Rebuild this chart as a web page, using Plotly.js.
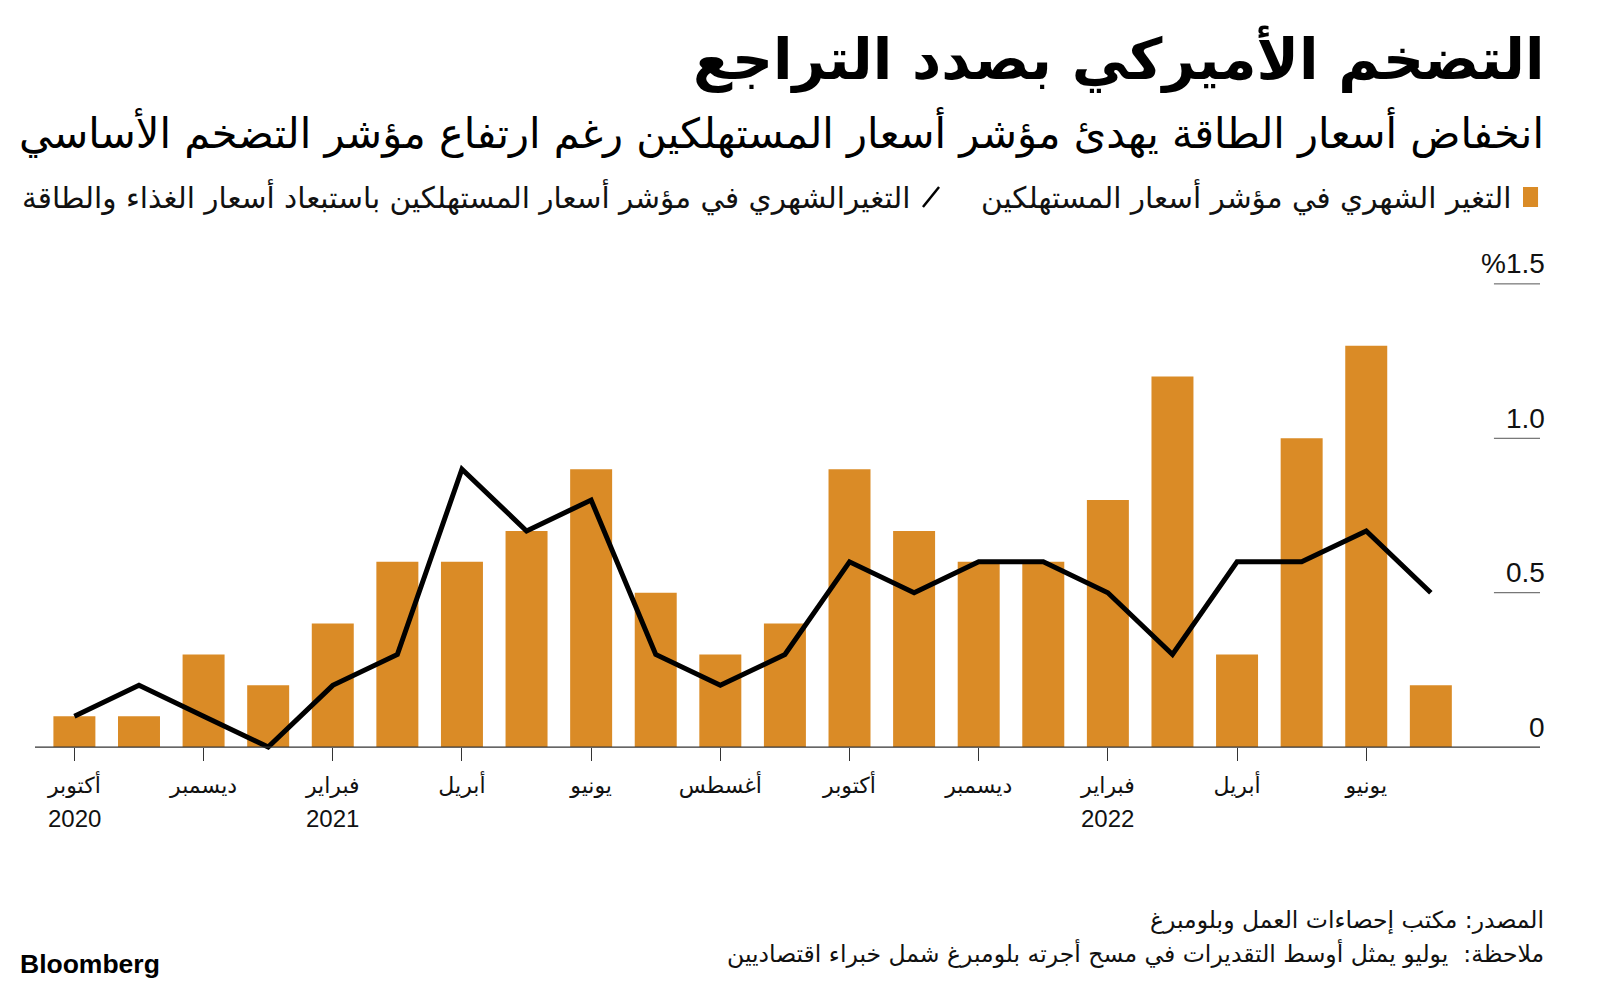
<!DOCTYPE html>
<html>
<head>
<meta charset="utf-8">
<script src="https://cdn.plot.ly/plotly-3.0.1.min.js"></script>
<style>html,body{margin:0;padding:0;background:#fff;}#chart{width:1600px;height:989px;}</style>
</head>
<body>
<div id="chart"></div>
<script>
// ---- data ----
const months = ['2020-10','2020-11','2020-12','2021-01','2021-02','2021-03','2021-04','2021-05','2021-06','2021-07','2021-08','2021-09','2021-10','2021-11','2021-12','2022-01','2022-02','2022-03','2022-04','2022-05','2022-06','2022-07'];
const cpiMonthly = [0.1,0.1,0.3,0.2,0.4,0.6,0.6,0.7,0.9,0.5,0.3,0.4,0.9,0.7,0.6,0.6,0.8,1.2,0.3,1.0,1.3,0.2];
const coreMonthly = [0.1,0.2,0.1,0.0,0.2,0.3,0.9,0.7,0.8,0.3,0.2,0.3,0.6,0.5,0.6,0.6,0.5,0.3,0.6,0.6,0.7,0.5];
const tickMonths = ['2020-10','2020-12','2021-02','2021-04','2021-06','2021-08','2021-10','2021-12','2022-02','2022-04','2022-06'];
const tickLabels = ['أكتوبر','ديسمبر','فبراير','أبريل','يونيو','أغسطس','أكتوبر','ديسمبر','فبراير','أبريل','يونيو'];
const yearMonths = ['2020-10','2021-02','2022-02'];
const yearLabels = ['2020','2021','2022'];
const yTickVals = [1.5, 1.0, 0.5, 0];
const yTickText = ['%1.5','1.0','0.5','0'];
const titleText = 'التضخم الأميركي بصدد التراجع';
const subtitleText = 'انخفاض أسعار الطاقة يهدئ مؤشر أسعار المستهلكين رغم ارتفاع مؤشر التضخم الأساسي';
const legendCpi = 'التغير الشهري في مؤشر أسعار المستهلكين';
const legendCore = 'التغيرالشهري في مؤشر أسعار المستهلكين باستبعاد أسعار الغذاء والطاقة';
const sourceText = 'المصدر: مكتب إحصاءات العمل وبلومبرغ';
const noteText = 'ملاحظة:  يوليو يمثل أوسط التقديرات في مسح أجرته بلومبرغ شمل خبراء اقتصاديين';

const ORANGE = '#DA8B26';
const AR = '"DejaVu Sans", "Noto Sans", sans-serif';
const LAT = '"Liberation Sans", Arial, sans-serif';

const traces = [
  {type:'bar', x: months, y: cpiMonthly, marker:{color: ORANGE}, hoverinfo:'skip', showlegend:false},
  {type:'scatter', mode:'lines', x: months, y: coreMonthly, line:{color:'#000', width:5}, hoverinfo:'skip', showlegend:false}
];

const annotations = [];
const shapes = [];
yTickVals.forEach((v,i)=>{
  annotations.push({xref:'paper', yref:'y', x:1.0047, y:v, yshift:20, xanchor:'right', yanchor:'middle',
    text:yTickText[i], showarrow:false, font:{family:LAT, size:28, color:'#111'}});
  if (v !== 0) shapes.push({type:'line', xref:'paper', yref:'y', x0:0.9694, x1:1.0, y0:v, y1:v, line:{color:'#555', width:1}});
});
// zero axis line
shapes.push({type:'line', xref:'paper', yref:'y', x0:0, x1:1, y0:0, y1:0, line:{color:'#333', width:1.2}});
// year labels under tick months
yearMonths.forEach((m,i)=>{
  annotations.push({xref:'x', yref:'paper', x:m, y:-0.0762, xanchor:'center', yanchor:'middle', showarrow:false,
    text:yearLabels[i], font:{family:LAT, size:24, color:'#111'}});
});

// header
annotations.push({xref:'paper', yref:'paper', x:1.004, y:1.3695, xanchor:'right', yanchor:'middle', showarrow:false,
  text:'<b>'+titleText+'</b>', font:{family:AR, size:57, color:'#000'}});
annotations.push({xref:'paper', yref:'paper', x:1.004, y:1.2286, xanchor:'right', yanchor:'middle', showarrow:false,
  text:subtitleText, font:{family:AR, size:41.5, color:'#000'}});
// legend
shapes.push({type:'rect', xref:'paper', yref:'paper', x0:0.9887, x1:0.9987, y0:1.0876, y1:1.1257, fillcolor:ORANGE, line:{width:0}});
annotations.push({xref:'paper', yref:'paper', x:0.982, y:1.1067, xanchor:'right', yanchor:'middle', showarrow:false,
  text:legendCpi, font:{family:AR, size:29.5, color:'#111'}});
shapes.push({type:'line', xref:'paper', yref:'paper', x0:0.590, x1:0.6007, y0:1.0876, y1:1.1257, line:{color:'#000', width:2.5}});
annotations.push({xref:'paper', yref:'paper', x:0.5834, y:1.1067, xanchor:'right', yanchor:'middle', showarrow:false,
  text:legendCore, font:{family:AR, size:29.5, color:'#111'}});
// footer
annotations.push({xref:'paper', yref:'paper', x:1.004, y:-0.2705, xanchor:'right', yanchor:'middle', showarrow:false,
  text:sourceText, font:{family:AR, size:23.5, color:'#111'}});
annotations.push({xref:'paper', yref:'paper', x:1.004, y:-0.3352, xanchor:'right', yanchor:'middle', showarrow:false,
  text:noteText, font:{family:AR, size:23.5, color:'#111'}});
annotations.push({xref:'paper', yref:'paper', x:-0.0113, y:-0.3543, xanchor:'left', yanchor:'middle', showarrow:false,
  text:'<b>Bloomberg</b>', font:{family:LAT, size:26.5, color:'#000'}});

const layout = {
  width:1600, height:989,
  margin:{l:35, r:60, t:253, b:211, pad:0},
  paper_bgcolor:'#fff', plot_bgcolor:'#fff',
  bargap:0.35,
  showlegend:false,
  xaxis:{type:'category', range:[-0.61, 22.69], anchor:'free', position:0.1/1.7,
    tickmode:'array', tickvals:tickMonths, ticktext:tickLabels,
    ticks:'outside', ticklen:13, tickwidth:1, tickcolor:'#333', ticklabelstandoff:5,
    showline:false, showgrid:false, zeroline:false, fixedrange:true,
    tickfont:{family:AR, size:22, color:'#111'}},
  yaxis:{range:[-0.1, 1.6], visible:false, fixedrange:true},
  shapes: shapes,
  annotations: annotations
};

Plotly.newPlot('chart', traces, layout, {displayModeBar:false, staticPlot:true});
</script>
</body>
</html>
